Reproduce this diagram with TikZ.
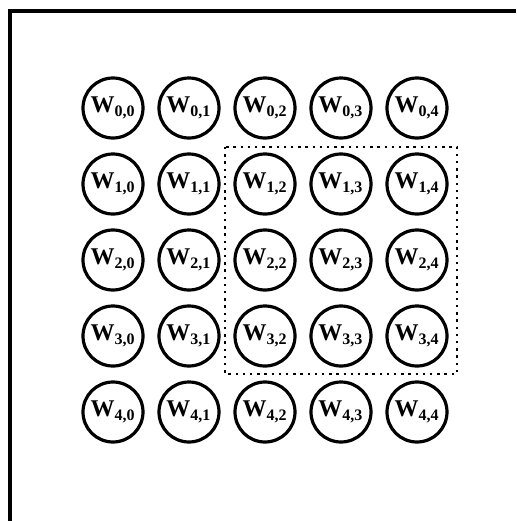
\documentclass[tikz,border=0pt]{standalone}
\usepackage{fontspec}
\setmainfont{Liberation Serif}
\tikzset{w/.style={circle,draw,line width=1.6pt,minimum size=30pt,inner sep=0pt,font=\bfseries\fontsize{12}{14}\selectfont}}

\begin{document}
\begin{tikzpicture}[x=.5pt,y=-.5pt]
		\useasboundingbox (0,0) rectangle (516,521);
		\draw[line width=1.7pt] (10,521)--(10,11)--(516,11);
		
		\foreach \r in {0,...,4}
			\foreach \c in {0,...,4}
				\node[w] (w-\r-\c) at (113+76*\c,108+76*\r) {W\textsubscript{\r,\c}};
		
		\draw[line width=1.2pt,dash pattern=on 1.2pt off 2.4pt] (225,147) rectangle (457,374);
	\end{tikzpicture}
\end{document}
